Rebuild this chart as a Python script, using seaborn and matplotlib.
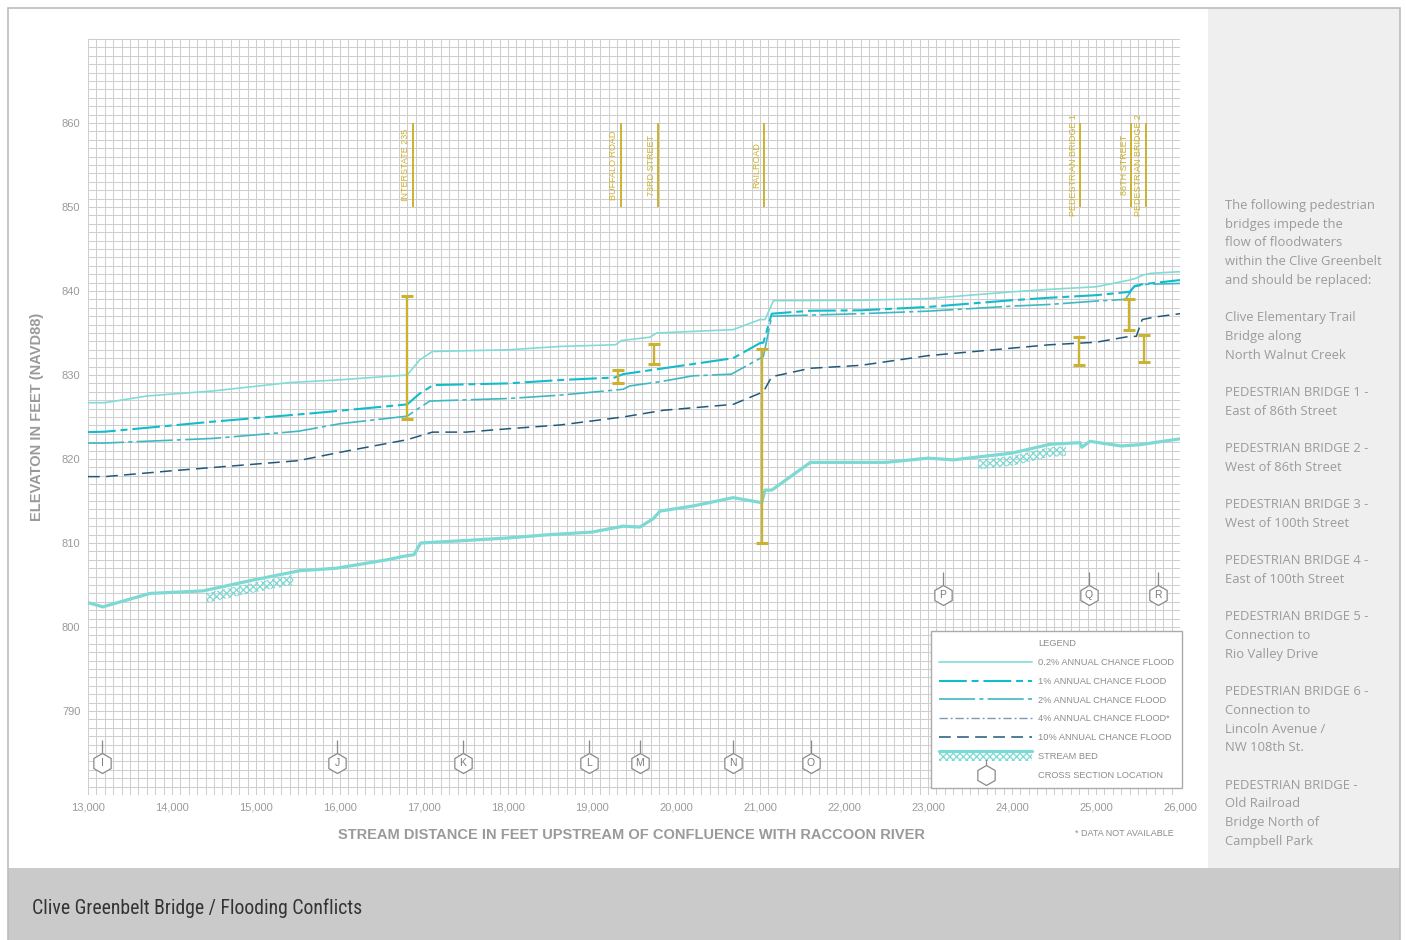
import numpy as np
import matplotlib
matplotlib.use("Agg")
import matplotlib.pyplot as plt
import seaborn as sns
import pandas as pd
from matplotlib.lines import Line2D
from matplotlib.patches import Rectangle, Patch
from matplotlib.legend_handler import HandlerBase
from matplotlib.ticker import MultipleLocator
import matplotlib.transforms as mtransforms
from matplotlib import font_manager as fm

# ---------------- data ----------------
f02_x = [13000, 13200, 13700, 14490, 15400, 15960, 16800, 16950, 17100, 18000, 18620, 19280,
         19350, 19690, 19770, 20680, 21000, 21060, 21160, 22200, 23000, 24000, 24450, 25000,
         25400, 25470, 25560, 25650, 26000]
f02_y = [826.7, 826.7, 827.5, 828.1, 829.1, 829.4, 830.0, 831.8, 832.8, 833.0, 833.4, 833.6,
         834.1, 834.5, 835.0, 835.4, 836.6, 836.6, 838.85, 838.9, 839.1, 839.9, 840.2, 840.5,
         841.3, 841.5, 841.9, 842.1, 842.3]

f1_x = [13000, 13200, 14490, 15680, 16800, 16950, 17110, 18000, 18620, 19270, 19370, 20680,
        21000, 21040, 21140, 21600, 22200, 23000, 24000, 24450, 25000, 25400, 25460, 25550, 26000]
f1_y = [823.2, 823.25, 824.45, 825.45, 826.5, 827.8, 828.8, 829.0, 829.4, 829.7, 830.1, 832.0,
        833.8, 833.85, 837.3, 837.65, 837.7, 838.1, 838.9, 839.2, 839.5, 839.9, 840.6, 840.8, 841.3]

f2_x = [13000, 13200, 14490, 15500, 16000, 16800, 16900, 17070, 18000, 18620, 19370, 19450,
        19810, 20200, 20660, 21040, 21140, 22200, 23000, 24000, 24450, 25000, 25350, 25450,
        25600, 26000]
f2_y = [821.9, 821.9, 822.45, 823.3, 824.2, 825.1, 825.8, 826.9, 827.2, 827.6, 828.3, 828.7,
        829.2, 829.9, 830.1, 832.2, 837.0, 837.3, 837.6, 838.2, 838.4, 838.8, 839.0, 840.5,
        840.8, 840.9]

f10_x = [13000, 13200, 14000, 15000, 15500, 16000, 16800, 17100, 17500, 18000, 18620, 19370,
         19850, 20680, 21040, 21140, 21600, 22200, 23000, 24000, 24450, 25000, 25400, 25480,
         25550, 25700, 26000]
f10_y = [817.9, 817.9, 818.6, 819.4, 819.8, 820.8, 822.3, 823.2, 823.2, 823.6, 824.05, 825.0,
         825.8, 826.5, 828.0, 829.8, 830.8, 831.15, 832.3, 833.2, 833.6, 833.9, 834.6, 834.6,
         836.6, 836.9, 837.3]

sb_x = [13000, 13175, 13740, 14370, 14970, 15520, 15960, 16560, 16800, 16880, 16960, 17500,
        18000, 18500, 19000, 19370, 19570, 19730, 19810, 20200, 20680, 21020, 21060, 21140,
        21600, 22200, 22500, 23000, 23300, 24000, 24450, 24810, 24830, 24930, 25300, 25520, 26000]
sb_y = [802.9, 802.4, 804.0, 804.3, 805.6, 806.7, 807.0, 808.0, 808.5, 808.6, 810.0, 810.3,
        810.6, 811.0, 811.3, 812.0, 811.9, 812.9, 813.8, 814.4, 815.4, 814.8, 816.3, 816.3,
        819.6, 819.6, 819.6, 820.1, 819.9, 820.7, 821.75, 821.95, 821.4, 822.1, 821.55, 821.7, 822.4]

hatch_ranges = [(14413, 15444), (23595, 24643)]

bridge_x = [16800, 19315, 19742, 21027, 24801, 25393, 25575]
bridge_lo = [824.8, 829.1, 831.3, 810.0, 831.15, 835.4, 831.5]
bridge_hi = [839.4, 830.6, 833.7, 833.1, 834.5, 839.1, 834.8]

label_x = [16865, 19341, 19790, 21048, 24810, 25417, 25592]
label_txt = ["INTERSTATE 235", "BUFFALO ROAD", "73RD STREET", "RAILROAD",
             "PEDESTRIAN BRIDGE 1", "86TH STREET", "PEDESTRIAN BRIDGE 2"]

xs_x = [13167, 15964, 17464, 18964, 19571, 20679, 21607, 23179, 24917, 25738]
xs_y = [783.8, 783.8, 783.8, 783.8, 783.8, 783.8, 783.8, 803.8, 803.8, 803.8]
xs_lab = ["I", "J", "K", "L", "M", "N", "O", "P", "Q", "R"]

xtick_vals = list(range(13000, 26001, 1000))
xtick_labels = ["13,000", "14,000", "15,000", "16,000", "17,000", "18,000", "19,000",
                "20,000", "21,000", "22,000", "23,000", "24,000", "25,000", "26,000"]
ytick_vals = [790, 800, 810, 820, 830, 840, 850, 860]

legend_labels = ["0.2% ANNUAL CHANCE FLOOD", "1% ANNUAL CHANCE FLOOD", "2% ANNUAL CHANCE FLOOD",
                 "4% ANNUAL CHANCE FLOOD*", "10% ANNUAL CHANCE FLOOD", "STREAM BED",
                 "CROSS SECTION LOCATION"]

side_lines = ["The following pedestrian", "bridges impede the", "flow of floodwaters",
              "within the Clive Greenbelt", "and should be replaced:", "",
              "Clive Elementary Trail", "Bridge along", "North Walnut Creek", "",
              "PEDESTRIAN BRIDGE 1 -", "East of 86th Street", "",
              "PEDESTRIAN BRIDGE 2 -", "West of 86th Street", "",
              "PEDESTRIAN BRIDGE 3 -", "West of 100th Street", "",
              "PEDESTRIAN BRIDGE 4 -", "East of 100th Street", "",
              "PEDESTRIAN BRIDGE 5 -", "Connection to", "Rio Valley Drive", "",
              "PEDESTRIAN BRIDGE 6 -", "Connection to", "Lincoln Avenue /", "NW 108th St.", "",
              "PEDESTRIAN BRIDGE -", "Old Railroad", "Bridge North of", "Campbell Park"]

title_text = "Clive Greenbelt Bridge / Flooding Conflicts"

# ---------------- style ----------------
C02 = "#80dcd6"
C1 = "#12bccb"
C2 = "#3fb8c3"
C4 = "#7d9cb5"
C10 = "#215a78"
CSB = "#7dd9d3"
GOLD = "#cbb22f"
GREY_TXT = "#9a9a9a"
LS1 = (0, (20, 3.5, 5, 3.5))
LS2 = (0, (26, 3, 3, 3))
LS4 = (0, (6, 2, 1.5, 2))
LS10 = (0, (8.5, 4.5))
HATCH = "xxxxx"

sns.set_theme(style="white")
plt.rcParams["font.family"] = ["Liberation Sans", "DejaVu Sans"]
plt.rcParams["lines.scale_dashes"] = False
plt.rcParams["hatch.color"] = CSB
plt.rcParams["hatch.linewidth"] = 0.9

avail = {f.name for f in fm.fontManager.ttflist}
if "Liberation Sans Narrow" in avail:
    title_font, title_size = "Liberation Sans Narrow", 14.2
elif "Roboto Condensed" in avail:
    title_font, title_size = "Roboto Condensed", 14.2
else:
    title_font, title_size = "Roboto", 12

W, H = 1406, 940
fig = plt.figure(figsize=(W / 100, H / 100), dpi=100)
fig.patch.set_facecolor("white")


def px_rect(x0, y0, x1, y1, **kw):
    r = Rectangle((x0 / W, 1 - y1 / H), (x1 - x0) / W, (y1 - y0) / H,
                  transform=fig.transFigure, zorder=-5, **kw)
    fig.add_artist(r)


px_rect(8, 8, 1208, 868, facecolor="white", edgecolor="none")
px_rect(1208, 8, 1400, 868, facecolor="#efefef", edgecolor="none")
px_rect(8, 868, 1400, 940, facecolor="#cacaca", edgecolor="none")
px_rect(8, 8, 1400, 941, facecolor="none", edgecolor="#bcbcbc", linewidth=1.2)

ax = fig.add_axes([88 / W, 1 - 795 / H, (1180 - 88) / W, (795 - 39) / H])
ax.set_facecolor("white")
ax.set_xlim(13000, 26000)
ax.set_ylim(780, 870)
ax.set_xticks(xtick_vals)
ax.set_xticklabels(xtick_labels)
ax.set_yticks(ytick_vals)
ax.xaxis.set_minor_locator(MultipleLocator(100))
ax.yaxis.set_minor_locator(MultipleLocator(1))
ax.grid(which="both", color="#cecece", linewidth=0.75)
ax.set_axisbelow(True)
for s in ax.spines.values():
    s.set_visible(False)
ax.tick_params(axis="both", which="both", length=0, labelsize=8, labelcolor=GREY_TXT, pad=5.5)

# ---------------- series ----------------
sns.lineplot(x=sb_x, y=sb_y, ax=ax, color=CSB, linewidth=2.3, sort=False, estimator=None, zorder=3)
sns.lineplot(x=f10_x, y=f10_y, ax=ax, color=C10, linewidth=1.1, linestyle=LS10, sort=False,
             estimator=None, zorder=3)
sns.lineplot(x=f2_x, y=f2_y, ax=ax, color=C2, linewidth=1.2, linestyle=LS2, sort=False,
             estimator=None, zorder=3)
sns.lineplot(x=f1_x, y=f1_y, ax=ax, color=C1, linewidth=1.5, linestyle=LS1, sort=False,
             estimator=None, zorder=3)
sns.lineplot(x=f02_x, y=f02_y, ax=ax, color=C02, linewidth=1.2, sort=False, estimator=None, zorder=3)

# hatched stream bed bands
sbx = np.array(sb_x, float)
sby = np.array(sb_y, float)
for a, b in hatch_ranges:
    inner = sbx[(sbx > a) & (sbx < b)]
    xx = np.concatenate([[a], inner, [b]])
    top = np.interp(xx, sbx, sby) - 0.35
    ax.fill_between(xx, top - 1.15, top, facecolor="none", edgecolor=CSB, hatch=HATCH,
                    linewidth=0, zorder=2)

# bridge conflict bars
lo = np.array(bridge_lo)
hi = np.array(bridge_hi)
ax.errorbar(bridge_x, (lo + hi) / 2, yerr=(hi - lo) / 2, fmt="none", ecolor=GOLD,
            elinewidth=1.7, capsize=4.3, capthick=2.2, zorder=4)

# top labels
ax.vlines(label_x, 850, 860, color=GOLD, linewidth=1.4, zorder=4)
txt_tr = mtransforms.offset_copy(ax.transData, fig=fig, x=-7, y=0, units="dots")
for x, t in zip(label_x, label_txt):
    ax.text(x, 855, t, rotation=90, ha="center", va="center", fontsize=6.5, color=GOLD,
            transform=txt_tr, zorder=4)

# cross section markers
xsy = np.array(xs_y)
ax.vlines(xs_x, xsy + 1.2, xsy + 2.75, color="#8a8a8a", linewidth=0.9, zorder=4)
ax.plot(xs_x, xs_y, linestyle="none", marker="h", markersize=14.4, markerfacecolor="white",
        markeredgecolor="#8a8a8a", markeredgewidth=0.9, zorder=5)
for x, y, t in zip(xs_x, xs_y, xs_lab):
    ax.text(x, y, t, ha="center", va="center", fontsize=7.5, color="#7a7a7a", zorder=6)

# axis labels
ax.set_xlabel("STREAM DISTANCE IN FEET UPSTREAM OF CONFLUENCE WITH RACCOON RIVER",
              fontsize=10.5, fontweight="bold", color=GREY_TXT)
ax.xaxis.set_label_coords((631 - 88) / 1092, -33 / 756)
ax.set_ylabel("ELEVATON IN FEET (NAVD88)", fontsize=10.5, fontweight="bold", color=GREY_TXT)
ax.yaxis.set_label_coords((44 - 88) / 1092, 0.5)


# ---------------- legend ----------------
class StreamBedHandler(HandlerBase):
    def create_artists(self, legend, orig_handle, xdescent, ydescent, width, height, fontsize, trans):
        c = (height - ydescent) / 2
        rect = Rectangle((-xdescent, c - 3.6), width, 5.8, facecolor="none", edgecolor=CSB,
                         hatch=HATCH, linewidth=0, transform=trans)
        line = Line2D([-xdescent, -xdescent + width], [c + 3.6, c + 3.6], color=CSB,
                      linewidth=2.3, transform=trans)
        return [rect, line]


class CrossSectionHandler(HandlerBase):
    def create_artists(self, legend, orig_handle, xdescent, ydescent, width, height, fontsize, trans):
        c = (height - ydescent) / 2
        cx = -xdescent + width / 2
        tick = Line2D([cx, cx], [c + 6.7, c + 10.3], color="#8a8a8a", linewidth=0.9, transform=trans)
        hexm = Line2D([cx], [c - 0.5], linestyle="none", marker="h", markersize=14.4,
                      markerfacecolor="white", markeredgecolor="#8a8a8a", markeredgewidth=0.9,
                      transform=trans)
        return [tick, hexm]


h02 = Line2D([], [], color=C02, linewidth=1.2)
h1 = Line2D([], [], color=C1, linewidth=1.5, linestyle=LS1)
h2 = Line2D([], [], color=C2, linewidth=1.2, linestyle=LS2)
h4 = Line2D([], [], color=C4, linewidth=1.0, linestyle=LS4)
h10 = Line2D([], [], color=C10, linewidth=1.1, linestyle=LS10)
hsb = Patch(facecolor="none")
hxs = Line2D([], [])

leg = ax.legend([h02, h1, h2, h4, h10, hsb, hxs], legend_labels, title="LEGEND",
                loc="upper left", bbox_to_anchor=(931 / W, 1 - 631 / H),
                bbox_transform=fig.transFigure, borderaxespad=0, borderpad=0.9,
                fontsize=6.7, title_fontsize=6.7, handlelength=10.0, handletextpad=0.6,
                labelspacing=1.05, frameon=True, fancybox=False, framealpha=1,
                edgecolor="#aaaaaa", labelcolor="#8c8c8c",
                handler_map={hsb: StreamBedHandler(), hxs: CrossSectionHandler()})
leg.get_title().set_color("#8c8c8c")
leg.get_frame().set_linewidth(1.0)
leg.set_zorder(10)

fig.text(1174 / W, 1 - 833 / H, "* DATA NOT AVAILABLE", ha="right", va="center",
         fontsize=6.5, color="#8c8c8c")

# ---------------- side panel ----------------
for i, line in enumerate(side_lines):
    if line:
        fig.text(1225 / W, 1 - (204 + i * 18.7) / H, line, ha="left", va="center_baseline",
                 fontsize=9.4, color="#9b9b9b", family=["Open Sans", "DejaVu Sans"])

fig.text(32 / W, 1 - 908 / H, title_text, ha="left", va="center", fontsize=title_size,
         color="#333333", family=[title_font, "DejaVu Sans"])

fig.savefig("out.png", dpi=100)
